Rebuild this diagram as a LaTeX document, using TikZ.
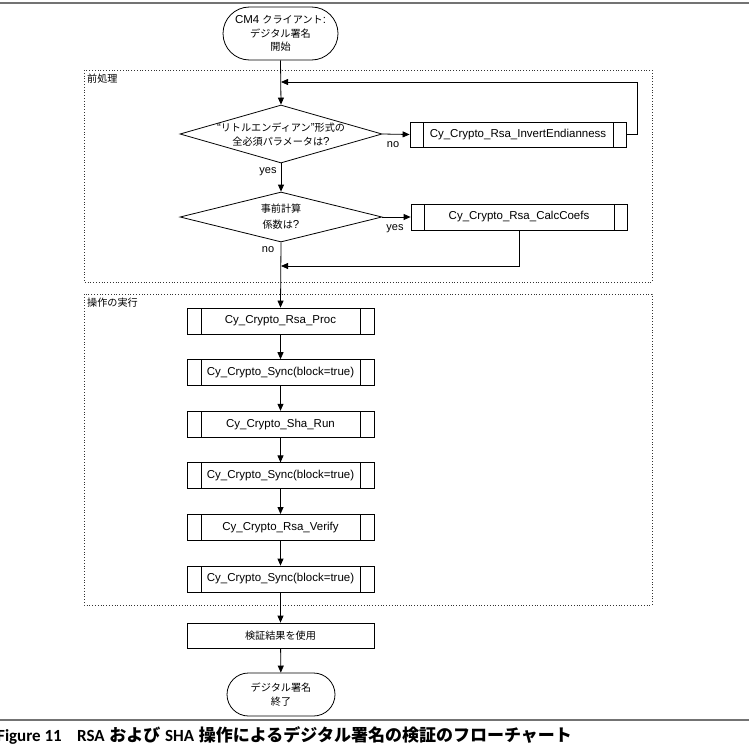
\documentclass[tikz,border=0pt]{standalone}
\usepackage{fontspec}
\setmainfont{Liberation Sans}
\newfontfamily\jp{Noto Sans CJK JP}[Scale=0.88]
\newfontfamily\capjp{Noto Sans CJK JP}
\newfontfamily\capfont{Carlito}
\usetikzlibrary{arrows.meta,shapes.geometric,shapes.misc}
\tikzset{
  ln/.style={draw=black, line width=0.8pt},
  arr/.style={ln, -{Triangle[length=7pt,width=6pt]}},
  txt/.style={align=center, inner sep=0pt, font=\fontsize{11.5}{13.5}\selectfont},
  lbl/.style={inner sep=0pt, font=\fontsize{11}{13}\selectfont},
  term/.style={ln, rounded rectangle, align=center, inner sep=0pt, font=\fontsize{11.5}{13.5}\selectfont},
  dec/.style={ln, diamond, inner sep=0pt},
  subproc/.style={ln, rectangle, inner sep=0pt, minimum height=26pt, font=\fontsize{11.5}{13.5}\selectfont,
    path picture={
      \draw[line width=0.8pt] ([xshift=#1]path picture bounding box.north west) -- ([xshift=#1]path picture bounding box.south west);
      \draw[line width=0.8pt] ([xshift=-#1]path picture bounding box.north east) -- ([xshift=-#1]path picture bounding box.south east);
    }},
  subproc/.default=14pt,
  plainbox/.style={ln, rectangle, inner sep=0pt, minimum height=26pt, font=\fontsize{11.5}{13.5}\selectfont},
  grp/.style={draw=black!80, line width=0.8pt, dotted},
  grplabel/.style={anchor=north west, inner sep=0pt, font=\fontsize{11.5}{13.5}\selectfont},
  rule/.style={draw=black!55, line width=1.3pt},
}
\begin{document}
\begin{tikzpicture}[x=1pt,y=-1pt]
\useasboundingbox (0,0) rectangle (749,744);
\fill[white] (0,0) rectangle (749,744);
% horizontal rules
\coordinate (r1a) at (0,3); \coordinate (r1b) at (749,3);
\coordinate (r2a) at (0,720); \coordinate (r2b) at (749,720);
\draw[rule] (r1a) -- (r1b);
\draw[rule] (r2a) -- (r2b);
% groups
\draw[grp] (84,70) rectangle (652,282);
\node[grplabel] (lab1) at (87,74) {\jp 前処理};
\draw[grp] (84,294) rectangle (652,605);
\node[grplabel] (lab2) at (87,298) {\jp 操作の実行};
% nodes
\node[term, minimum width=115pt, minimum height=53pt] (start) at (280.5,33.5)
  {CM4 {\jp クライアント}:\\{\jp デジタル署名}\\{\jp 開始}};
\node[dec, minimum width=202pt, minimum height=58pt] (d1) at (281,134) {};
\node[txt] (d1t) at (281,134.5) {“{\jp リトルエンディアン}”{\jp 形式の}\\{\jp 全必須パラメータは}?};
\node[subproc=13pt, minimum width=216pt, minimum height=25pt] (inv) at (518,134.5) {Cy\_Crypto\_Rsa\_InvertEndianness};
\node[dec, minimum width=202pt, minimum height=50pt] (d2) at (281,217) {};
\node[txt, font=\fontsize{11.5}{16}\selectfont] (d2t) at (281,217) {{\jp 事前計算}\\{\jp 係数は}?};
\node[subproc=13pt, minimum width=216pt] (calc) at (519,217) {Cy\_Crypto\_Rsa\_CalcCoefs};
\coordinate (j1) at (281,82);
\coordinate (j2) at (281,266);
\node[subproc, minimum width=187pt] (p1) at (280.5,321) {Cy\_Crypto\_Rsa\_Proc};
\node[subproc, minimum width=187pt] (p2) at (280.5,372.6) {Cy\_Crypto\_Sync(block=true)};
\node[subproc, minimum width=187pt] (p3) at (280.5,424.2) {Cy\_Crypto\_Sha\_Run};
\node[subproc, minimum width=187pt] (p4) at (280.5,475.8) {Cy\_Crypto\_Sync(block=true)};
\node[subproc, minimum width=187pt] (p5) at (280.5,527.4) {Cy\_Crypto\_Rsa\_Verify};
\node[subproc, minimum width=187pt] (p6) at (280.5,579) {Cy\_Crypto\_Sync(block=true)};
\node[plainbox, minimum width=187pt, minimum height=25pt] (use) at (280.5,635.5) {\jp 検証結果を使用};
\node[term, minimum width=108pt, minimum height=43pt, font=\fontsize{11.5}{14}\selectfont] (stop) at (281,694.5)
  {{\jp デジタル署名}\\{\jp 終了}};
% labels
\node[lbl] (no1) at (393,144.5) {no};
\node[lbl] (yes1) at (268,172) {yes};
\node[lbl] (yes2) at (395,229) {yes};
\node[lbl] (no2) at (268,250) {no};
% connectors
\draw[arr] (start.south) -- (d1.north);
\draw[arr] (inv.east) -- ++(11,0) |- (j1);
\draw[arr] (d1.east) -- (inv.west);
\draw[arr] (d1.south) -- (d2.north);
\draw[arr] (d2.east) -- (calc.west);
\draw[arr] (calc.south) |- (j2);
\draw[arr] (d2.south) -- (p1.north);
\draw[arr] (p1) -- (p2);
\draw[arr] (p2) -- (p3);
\draw[arr] (p3) -- (p4);
\draw[arr] (p4) -- (p5);
\draw[arr] (p5) -- (p6);
\draw[arr] (p6) -- (use);
\draw[arr] (use) -- (stop);
% caption
\node[anchor=base west, inner sep=0pt, font=\fontsize{17}{20}\selectfont\bfseries] (cap1) at (-3,741) {\capfont Figure 11};
\node[anchor=base west, inner sep=0pt, font=\fontsize{17}{20}\selectfont\bfseries] (cap2) at (77,741)
  {{\capfont RSA} {\capjp および} {\capfont SHA} {\capjp 操作によるデジタル署名の検証のフローチャート}};
\end{tikzpicture}
\end{document}
